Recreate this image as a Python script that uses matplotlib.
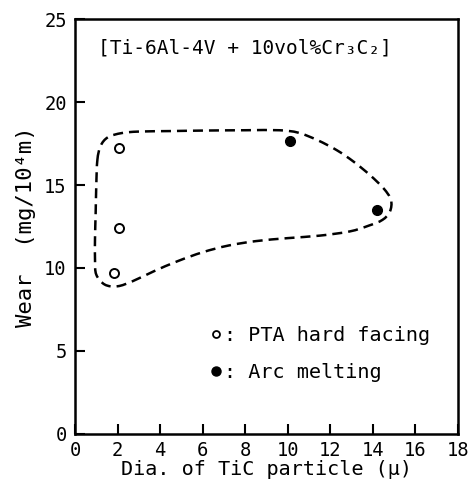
import matplotlib
matplotlib.use("Agg")
import matplotlib.pyplot as plt
import numpy as np
from matplotlib.path import Path
from matplotlib.patches import PathPatch
from matplotlib.lines import Line2D

plt.rcParams['font.family'] = ['DejaVu Sans Mono', 'DejaVu Sans']

# data points
pta_dia = [2.08, 2.07, 1.82]
pta_wear = [17.25, 12.43, 9.7]
arc_dia = [10.12, 14.18]
arc_wear = [17.65, 13.49]

# hand drawn enclosure around the points
outline_x = [1.05, 1.2, 1.55, 2.2, 3.0, 4.5, 6.0, 8.0, 9.6, 10.5, 11.4, 12.3, 13.1, 13.86,
             14.5, 14.85, 14.8, 14.45, 13.8, 12.9, 11.5, 10.0, 8.5, 7.2, 6.0, 4.8,
             3.7, 2.7, 2.0, 1.4, 1.0, 0.94, 0.94, 0.97, 1.0]
outline_y = [16.5, 17.35, 17.88, 18.13, 18.22, 18.25, 18.28, 18.3, 18.3, 18.15, 17.7, 17.1,
             16.4, 15.6, 14.8, 14.1, 13.4, 12.9, 12.55, 12.2, 11.95, 11.8, 11.62,
             11.35, 10.95, 10.4, 9.8, 9.2, 8.9, 9.0, 9.6, 10.5, 11.8, 13.3, 15.0]

xticks = list(range(0, 19, 2))
yticks = [0, 5, 10, 15, 20, 25]


def closed_smooth_path(xs, ys):
    # catmull-rom through the points, turned into bezier segments
    p = np.column_stack([xs, ys])
    n = len(p)
    verts = [p[0]]
    codes = [Path.MOVETO]
    for i in range(n):
        p0, p1, p2, p3 = p[i - 1], p[i], p[(i + 1) % n], p[(i + 2) % n]
        c1 = p1 + (p2 - p0) / 6.0
        c2 = p2 - (p3 - p1) / 6.0
        verts += [c1, c2, p2]
        codes += [Path.CURVE4] * 3
    return Path(verts, codes)


fig = plt.figure(figsize=(4.7, 4.88), dpi=100)
ax = fig.add_axes([0.1596, 0.1107, 0.8149, 0.8503])

patch = PathPatch(closed_smooth_path(outline_x, outline_y), facecolor='none',
                  edgecolor='black', linewidth=1.8, linestyle=(0, (4, 2.4)))
ax.add_patch(patch)

ax.plot(pta_dia, pta_wear, 'o', markersize=6.5, markerfacecolor='white',
        markeredgecolor='black', markeredgewidth=1.4)
ax.plot(arc_dia, arc_wear, 'o', markersize=7, color='black')

ax.set_xlim(0, 18)
ax.set_ylim(0, 25)
ax.set_xticks(xticks)
ax.set_yticks(yticks)
ax.tick_params(direction='in', length=7, width=1.5, labelsize=13.5, pad=5)
ax.tick_params(axis='y', pad=6)
for s in ax.spines.values():
    s.set_linewidth(1.8)

ax.set_xlabel('Dia. of TiC particle (μ)', fontsize=14.5, labelpad=0)
ax.set_ylabel('Wear  (mg/10⁴m)', fontsize=16, labelpad=6)

ax.text(1.08, 23.25, '[Ti-6Al-4V + 10vol%Cr₃C₂]', fontsize=14, va='center', ha='left')

handles = [Line2D([], [], linestyle='none', marker='o', markersize=5,
                  markerfacecolor='white', markeredgecolor='black', markeredgewidth=1.3),
           Line2D([], [], linestyle='none', marker='o', markersize=6.5, color='black')]
ax.legend(handles, [': PTA hard facing', ': Arc melting'], loc='upper left',
          bbox_to_anchor=(0.33, 0.28), frameon=False, fontsize=14.5,
          handlelength=0.6, handletextpad=0.1, labelspacing=0.9, borderaxespad=0)

fig.savefig('out.png', dpi=100)
